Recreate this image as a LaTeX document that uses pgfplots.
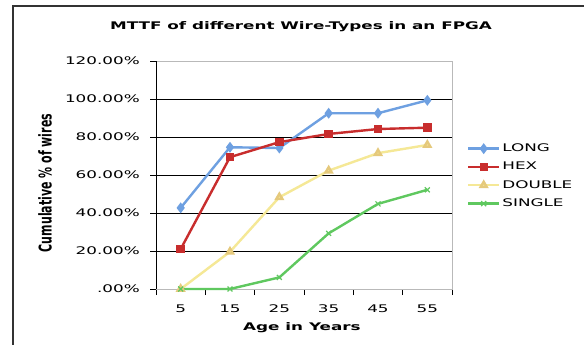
\documentclass[border=0pt]{standalone}
\usepackage{fontspec}
\usepackage{graphicx}
\usepackage{pgfplots}
\pgfplotsset{compat=1.18}
% Wide sans for horizontal text; the rotated axis label uses the plain face stretched vertically
\setmainfont{DejaVu Sans}[FakeStretch=1.6]
\newfontfamily\uprightfont{DejaVu Sans}

\definecolor{longc}{RGB}{110,160,225}
\definecolor{hexc}{RGB}{200,45,45}
\definecolor{doublec}{RGB}{245,232,150}
\definecolor{singlec}{RGB}{95,200,95}

\begin{document}
\begin{tikzpicture}
\fontsize{10.5bp}{12bp}\selectfont
\path[use as bounding box] (0,0) rectangle (584bp,345bp);
\fill[white] (0,0) rectangle (584bp,345bp);
% chart area frame
\draw[line width=1.5bp, black!80] (13bp,0) -- (13bp,339bp) -- (584bp,339bp);
\node[anchor=base, font=\bfseries\fontsize{10.5bp}{12bp}\selectfont] at (301bp,315bp) {MTTF of different Wire-Types in an FPGA};
\begin{axis}[
  scale only axis, width=296bp, height=228bp,
  at={(156bp,56bp)}, anchor=south west,
  xmin=-0.5, xmax=5.5, ymin=0, ymax=120,
  xtick={-0.5,0.5,...,5.5}, x tick label as interval,
  xticklabels={5,15,25,35,45,55},
  ytick={0,20,...,120},
  yticklabels={.00\%,20.00\%,40.00\%,60.00\%,80.00\%,100.00\%,120.00\%},
  /pgf/number format/assume math mode=true,
  tick pos=left, tick align=outside,
  major tick length=6bp,
  tick style={black, line width=0.8bp},
  ymajorgrids, grid style={black, line width=0.8bp},
  axis line style={draw=gray!55, line width=0.8bp},
  ticklabel style={font=\fontsize{10.5bp}{12bp}\selectfont},
  yticklabel style={anchor=east, inner sep=0pt, xshift=-10bp},
  xticklabel style={anchor=base, inner sep=0pt, yshift=-17bp},
  xlabel={\bfseries Age in Years},
  xlabel style={at={(axis description cs:0.493,-0.18)}, anchor=base, font=\fontsize{10.5bp}{12bp}\selectfont},
  ylabel={\uprightfont\bfseries\fontsize{11bp}{13bp}\selectfont\scalebox{1}[1.6]{Cumulative \% of wires}},
  ylabel style={at={(axis description cs:-0.375,0.465)}, anchor=center},
  clip=false,
  legend style={draw=none, fill=none, at={(axis description cs:1.05,0.495)}, anchor=west,
    inner sep=0pt, row sep=5bp, nodes={inner sep=2bp}, font=\fontsize{10.5bp}{12bp}\selectfont},
  legend cell align=left,
  legend image code/.code={\draw[#1, mark repeat=2, mark phase=2] plot coordinates {(0bp,0bp)(15.5bp,0bp)(31bp,0bp)};},
]
\draw[black, line width=0.8bp] (rel axis cs:0,0) -- (rel axis cs:0,1);
\addplot[longc, line width=2.4bp, mark=diamond*, mark size=3.5bp, mark options={fill=longc}]
  coordinates {(0,42.7)(1,74.6)(2,74.2)(3,92.5)(4,92.5)(5,99.3)};
\addlegendentry{LONG}
\addplot[hexc, line width=2.4bp, mark=square*, mark size=3bp, mark options={fill=hexc}]
  coordinates {(0,21.0)(1,69.4)(2,77.3)(3,81.6)(4,84.2)(5,84.9)};
\addlegendentry{HEX}
\addplot[doublec, line width=2.4bp, mark=triangle*, mark size=3.5bp, mark options={fill=doublec, draw=doublec!70!brown}]
  coordinates {(0,0)(1,19.6)(2,48.3)(3,62.3)(4,71.5)(5,75.8)};
\addlegendentry{DOUBLE}
\addplot[singlec, line width=2.4bp, mark=x, mark size=3.5bp, mark options={line width=1.2bp}]
  coordinates {(0,0)(1,0)(2,6.1)(3,29.3)(4,44.8)(5,52.2)};
\addlegendentry{SINGLE}
\end{axis}
\end{tikzpicture}
\end{document}
